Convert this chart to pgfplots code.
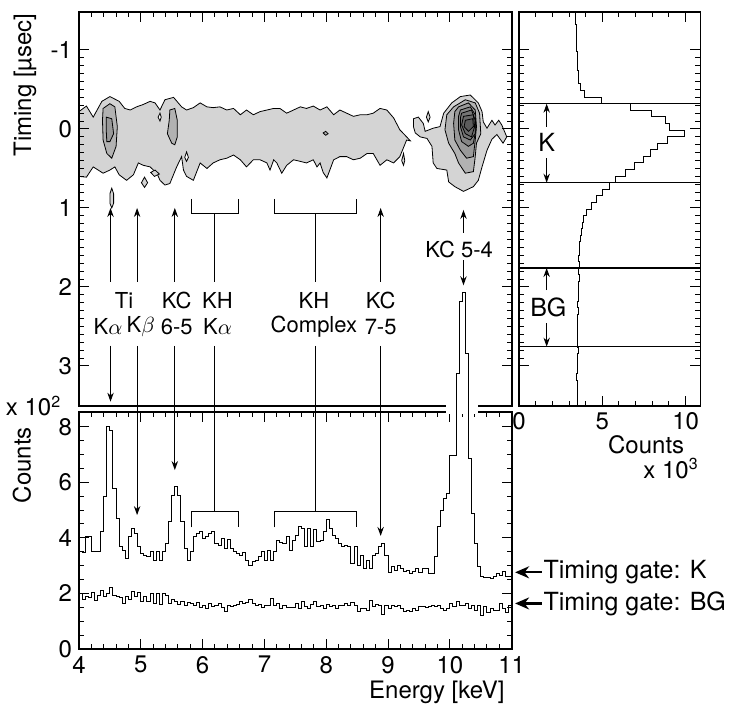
\documentclass[border=0pt]{standalone}
\usepackage{fontspec}
\setmainfont{TeX Gyre Heros}
\usepackage{pgfplots}
\pgfplotsset{compat=1.18}
\usetikzlibrary{arrows.meta}

\definecolor{c1}{gray}{0.83}
\definecolor{c2}{gray}{0.70}
\definecolor{c3}{gray}{0.60}
\definecolor{c4}{gray}{0.52}
\definecolor{c5}{gray}{0.46}
\definecolor{c6}{gray}{0.41}
\definecolor{c7}{gray}{0.36}

\newcommand\fa{\fontsize{12}{14}\selectfont}
\newcommand\fb{\fontsize{11}{13}\selectfont}
\newcommand\fc{\fontsize{12.5}{15}\selectfont}

\tikzset{
  arr/.style={-{Stealth[length=4.5pt,width=3.2pt]}, line width=0.5pt},
  gate/.style={-{Stealth[length=7pt,width=6pt]}, line width=1.1pt},
  ctr/.style={draw=black, line width=0.4pt},
}
\pgfplotsset{
  panel/.style={
    scale only axis, anchor=south west,
    axis line style={line width=0.8pt},
    tick style={black, line width=0.5pt},
    major tick length=5pt, minor tick length=2.5pt,
    tick label style={font=\fa},
    label style={font=\fa},
    /pgf/number format/assume math mode=true,
  },
}

\begin{document}
\begin{tikzpicture}
\path[use as bounding box] (0pt,0pt) rectangle (365.5pt,356.5pt);

% ---- timing vs energy (contours) ----
\begin{axis}[panel, at={(39.5pt,153.65pt)}, width=216.35pt, height=196.7pt,
  xmin=4, xmax=11, ymin=-1.477, ymax=3.503, y dir=reverse,
  xtick={4,...,11}, minor x tick num=4, xtick pos=right, xticklabels={},
  ytick={-1,0,1,2,3}, yticklabels={-1,0,1,2,3}, minor y tick num=9,
  axis on top,
  ylabel={Timing [µsec]},
  ylabel style={at={(axis description cs:-0.125,0.815)}, anchor=center},
]
% outer level
\addplot[ctr, fill=c1] coordinates {
(4.00,-0.22)(4.12,-0.29)(4.23,-0.15)(4.37,-0.35)(4.50,-0.41)(4.65,-0.35)(4.74,-0.26)(4.83,-0.24)
(4.93,-0.28)(5.04,-0.31)(5.15,-0.35)(5.23,-0.33)(5.31,-0.24)(5.39,-0.37)(5.53,-0.40)(5.66,-0.28)
(5.74,-0.24)(5.85,-0.27)(5.96,-0.33)(6.07,-0.28)(6.17,-0.27)(6.28,-0.28)(6.39,-0.24)(6.50,-0.26)
(6.61,-0.18)(6.71,-0.24)(6.82,-0.18)(6.93,-0.22)(7.04,-0.24)(7.15,-0.26)(7.25,-0.26)(7.36,-0.20)
(7.47,-0.24)(7.58,-0.28)(7.68,-0.26)(7.79,-0.29)(7.90,-0.24)(8.01,-0.28)(8.12,-0.18)(8.22,-0.24)
(8.33,-0.20)(8.44,-0.16)(8.55,-0.18)(8.66,-0.18)(8.76,-0.20)(8.87,-0.26)(8.98,-0.24)(9.09,-0.14)
(9.19,0.01)(9.30,0.10)(9.36,0.15)(9.30,0.14)(9.19,0.35)(9.09,0.43)(8.98,0.39)(8.87,0.46)
(8.76,0.31)(8.66,0.31)(8.55,0.37)(8.44,0.39)(8.33,0.35)(8.22,0.35)(8.12,0.39)(8.01,0.62)
(7.95,0.55)(7.90,0.43)(7.85,0.48)(7.79,0.39)(7.68,0.43)(7.58,0.41)(7.47,0.39)(7.36,0.46)
(7.28,0.56)(7.20,0.43)(7.15,0.39)(7.09,0.52)(7.04,0.43)(6.93,0.39)(6.82,0.39)(6.71,0.48)
(6.61,0.39)(6.50,0.33)(6.39,0.37)(6.28,0.39)(6.17,0.43)(6.07,0.50)(5.96,0.43)(5.85,0.65)
(5.74,0.60)(5.69,0.52)(5.66,0.35)(5.58,0.48)(5.47,0.69)(5.39,0.71)(5.31,0.65)(5.26,0.56)
(5.15,0.48)(5.04,0.46)(4.96,0.43)(4.88,0.58)(4.77,0.65)(4.65,0.58)(4.58,0.48)(4.50,0.52)
(4.39,0.56)(4.23,0.48)(4.12,0.61)(4.00,0.60)} -- cycle;
\addplot[ctr, fill=c1] coordinates {
(9.41,-0.13)(9.49,-0.15)(9.57,-0.07)(9.60,0.03)(9.73,-0.01)(9.84,-0.03)(9.90,-0.20)(10.03,-0.33)
(10.17,-0.41)(10.33,-0.43)(10.46,-0.33)(10.52,-0.22)(10.54,-0.09)(10.60,-0.01)(10.68,-0.11)
(10.73,-0.05)(10.79,-0.11)(10.84,-0.05)(10.92,0.10)(10.86,0.18)(10.76,0.07)(10.68,0.13)
(10.60,0.27)(10.52,0.48)(10.46,0.65)(10.38,0.73)(10.22,0.79)(10.08,0.73)(9.98,0.67)(9.95,0.52)
(9.79,0.50)(9.73,0.43)(9.71,0.22)(9.63,0.12)(9.52,0.10)(9.44,0.05)(9.41,-0.03)} -- cycle;
% small islands
\addplot[ctr, fill=c1] coordinates {(4.53,0.75)(4.56,0.82)(4.56,0.94)(4.53,1.00)(4.50,0.94)(4.50,0.82)} -- cycle;
\addplot[ctr, fill=c1] coordinates {(5.06,0.61)(5.11,0.68)(5.06,0.74)(5.01,0.68)} -- cycle;
\addplot[ctr, fill=c1] coordinates {(5.16,0.55)(5.23,0.52)(5.30,0.57)(5.22,0.60)} -- cycle;
\addplot[ctr, fill=c1] coordinates {(9.25,0.31)(9.27,0.40)(9.25,0.46)(9.22,0.40)} -- cycle;
\addplot[ctr, fill=c1] coordinates {(9.65,-0.22)(9.68,-0.15)(9.65,-0.09)(9.62,-0.15)} -- cycle;
% holes
\addplot[ctr, fill=white] coordinates {(5.31,-0.20)(5.33,-0.15)(5.31,-0.10)(5.28,-0.15)} -- cycle;
\addplot[ctr, fill=white] coordinates {(5.74,0.29)(5.77,0.36)(5.74,0.41)(5.71,0.36)} -- cycle;
\addplot[ctr, fill=c2] coordinates {(7.95,0.05)(7.99,0.03)(8.03,0.06)(7.99,0.08)} -- cycle;
% Ti Ka
\addplot[ctr, fill=c2] coordinates {(4.39,-0.26)(4.50,-0.32)(4.58,-0.28)(4.62,-0.03)(4.60,0.22)(4.53,0.37)(4.45,0.31)(4.39,0.14)(4.38,-0.11)} -- cycle;
\addplot[ctr, fill=c3] coordinates {(4.44,-0.15)(4.53,-0.13)(4.56,0.06)(4.50,0.16)(4.45,0.16)(4.44,0.01)} -- cycle;
% KC 6-5
\addplot[ctr, fill=c2] coordinates {(5.47,-0.24)(5.55,-0.26)(5.59,-0.11)(5.59,0.10)(5.55,0.20)(5.50,0.18)(5.43,0.06)(5.46,-0.11)} -- cycle;
% KC 5-4
\addplot[ctr, fill=c2] coordinates {(10.06,-0.28)(10.25,-0.37)(10.41,-0.33)(10.48,-0.20)(10.50,0.06)(10.43,0.18)(10.41,0.35)(10.38,0.54)(10.25,0.56)(10.14,0.43)(10.08,0.31)(9.98,0.18)(9.92,0.01)(9.95,-0.18)} -- cycle;
\addplot[ctr, fill=c3] coordinates {(10.14,-0.28)(10.30,-0.33)(10.41,-0.24)(10.43,-0.03)(10.41,0.14)(10.38,0.35)(10.27,0.37)(10.17,0.27)(10.08,0.14)(10.06,-0.07)(10.08,-0.22)} -- cycle;
\addplot[ctr, fill=c4] coordinates {(10.17,-0.24)(10.33,-0.28)(10.41,-0.18)(10.42,0.01)(10.38,0.18)(10.30,0.22)(10.19,0.16)(10.14,0.01)(10.14,-0.16)} -- cycle;
\addplot[ctr, fill=c5] coordinates {(10.19,-0.20)(10.35,-0.24)(10.41,-0.11)(10.41,0.06)(10.33,0.14)(10.22,0.10)(10.17,-0.03)(10.17,-0.14)} -- cycle;
\addplot[ctr, fill=c6] coordinates {(10.22,-0.16)(10.38,-0.18)(10.40,-0.03)(10.35,0.10)(10.25,0.06)(10.19,-0.05)} -- cycle;
\addplot[ctr, fill=c7] coordinates {(10.25,-0.11)(10.37,-0.13)(10.38,-0.03)(10.30,0.03)(10.23,-0.03)} -- cycle;

% annotations, upper part
\draw[arr] (4.51,1.933) -- (4.51,1.0);
\draw[arr] (4.51,2.743) -- (4.51,3.452);
\draw[arr] (4.94,1.933) -- (4.94,1.0);
\draw[arr] (5.55,1.933) -- (5.55,1.0);
\draw[line width=0.5pt] (5.82,0.886) -- (5.82,1.076) -- (6.58,1.076) -- (6.58,0.886);
\draw[line width=0.5pt] (6.20,1.076) -- (6.20,1.933);
\draw[line width=0.5pt] (7.16,0.886) -- (7.16,1.076) -- (8.49,1.076) -- (8.49,0.886);
\draw[line width=0.5pt] (7.83,1.076) -- (7.83,1.933);
\draw[arr] (8.88,1.933) -- (8.88,1.0);
\draw[arr] (10.22,1.316) -- (10.22,1.025);
\node[font=\fb] at (4.73,2.165) {Ti};
\node[font=\fb] at (4.47,2.506) {K$\alpha$};
\node[font=\fb] at (5.00,2.506) {K$\beta$};
\node[font=\fb] at (5.58,2.165) {KC};
\node[font=\fb] at (5.58,2.506) {6-5};
\node[font=\fb] at (6.24,2.165) {KH};
\node[font=\fb] at (6.24,2.506) {K$\alpha$};
\node[font=\fb] at (7.80,2.165) {KH};
\node[font=\fb] at (7.80,2.506) {Complex};
\node[font=\fb] at (8.88,2.165) {KC};
\node[font=\fb] at (8.88,2.506) {7-5};
\node[font=\fb] at (10.15,1.53) {KC 5-4};
\end{axis}

% ---- timing projection ----
\begin{axis}[panel, at={(259.5pt,153.65pt)}, width=90.65pt, height=196.7pt,
  xmin=0, xmax=10.88, ymin=-1.477, ymax=3.503, y dir=reverse,
  xtick={0,5,10}, minor x tick num=4,
  ytick={-1,0,1,2,3}, yticklabels={}, minor y tick num=9,
  clip mode=individual,
  xlabel={Counts},
  xlabel style={at={(axis description cs:0.95,-0.1)}, anchor=east},
]
\addplot[black, line width=0.5pt] coordinates {
(3.38,-1.487)(3.38,-1.403)(3.40,-1.403)(3.40,-1.320)(3.42,-1.320)(3.42,-1.237)(3.45,-1.237)(3.45,-1.153)
(3.43,-1.153)(3.43,-1.070)(3.47,-1.070)(3.47,-0.987)(3.50,-0.987)(3.50,-0.903)(3.48,-0.903)(3.48,-0.820)
(3.52,-0.820)(3.52,-0.737)(3.55,-0.737)(3.55,-0.653)(3.58,-0.653)(3.58,-0.570)(3.66,-0.570)(3.66,-0.487)
(3.92,-0.487)(3.92,-0.403)(4.96,-0.403)(4.96,-0.320)(6.70,-0.320)(6.70,-0.237)(7.96,-0.237)(7.96,-0.153)
(8.80,-0.153)(8.80,-0.070)(9.02,-0.070)(9.02,0.013)(9.92,0.013)(9.92,0.097)(8.90,0.097)(8.90,0.180)
(8.30,0.180)(8.30,0.263)(7.92,0.263)(7.92,0.347)(7.48,0.347)(7.48,0.430)(6.92,0.430)(6.92,0.513)
(6.42,0.513)(6.42,0.597)(5.82,0.597)(5.82,0.680)(5.42,0.680)(5.42,0.763)(5.00,0.763)(5.00,0.847)
(4.66,0.847)(4.66,0.930)(4.36,0.930)(4.36,1.013)(4.06,1.013)(4.06,1.097)(3.86,1.097)(3.86,1.180)
(3.80,1.180)(3.80,1.263)(3.72,1.263)(3.72,1.347)(3.70,1.347)(3.70,1.430)(3.62,1.430)(3.62,1.513)
(3.60,1.513)(3.60,1.597)(3.58,1.597)(3.58,1.680)(3.62,1.680)(3.62,1.763)(3.56,1.763)(3.56,1.847)
(3.60,1.847)(3.60,1.930)(3.55,1.930)(3.55,2.013)(3.58,2.013)(3.58,2.097)(3.55,2.097)(3.55,2.180)
(3.53,2.180)(3.53,2.263)(3.55,2.263)(3.55,2.347)(3.52,2.347)(3.52,2.430)(3.50,2.430)(3.50,2.513)
(3.52,2.513)(3.52,2.597)(3.50,2.597)(3.50,2.680)(3.48,2.680)(3.48,2.763)(3.55,2.763)(3.55,2.847)
(3.52,2.847)(3.52,2.930)(3.50,2.930)(3.50,3.013)(3.48,3.013)(3.48,3.097)(3.42,3.097)(3.42,3.180)
(3.50,3.180)(3.50,3.263)(3.52,3.263)(3.52,3.347)(3.50,3.347)(3.50,3.430)(3.52,3.430)(3.52,3.513)};
\draw[line width=0.6pt] (0,-0.32) -- (10.88,-0.32);
\draw[line width=0.6pt] (0,0.68) -- (10.88,0.68);
\draw[line width=0.6pt] (0,1.76) -- (10.88,1.76);
\draw[line width=0.6pt] (0,2.755) -- (10.88,2.755);
\draw[arr] (1.66,-0.03) -- (1.66,-0.32);
\draw[arr] (1.66,0.37) -- (1.66,0.68);
\draw[arr] (1.66,2.04) -- (1.66,1.76);
\draw[arr] (1.66,2.46) -- (1.66,2.755);
\node[font=\fc] at (1.66,0.17) {K};
\node[font=\fc] at (1.76,2.257) {BG};
\node[font=\fa, anchor=east] at (axis description cs:1.03,-0.16) {x 10\textsuperscript{3}};
\end{axis}

% ---- energy spectra ----
\begin{axis}[panel, at={(39.5pt,32pt)}, width=216.35pt, height=118.5pt,
  xmin=4, xmax=11, ymin=0, ymax=8.53,
  xtick={4,...,11}, minor x tick num=4,
  ytick={0,2,4,6,8}, minor y tick num=3,
  clip=false,
  xlabel={Energy [keV]},
  xlabel style={at={(axis description cs:1.0,-0.181)}, anchor=east},
  ylabel={Counts},
  ylabel style={at={(axis description cs:-0.132,0.776)}, anchor=center},
]
% timing gate K
\addplot[const plot, black, line width=0.5pt] coordinates {
(4.00,3.50)(4.05,3.46)(4.10,4.04)(4.15,4.04)(4.20,3.50)(4.25,3.50)(4.30,3.50)(4.35,4.22)(4.40,5.48)(4.45,8.02)
(4.50,7.88)(4.55,5.78)(4.60,4.70)(4.65,3.68)(4.70,3.56)(4.75,3.26)(4.80,4.04)(4.85,4.34)(4.90,4.16)(4.95,3.68)
(5.00,3.44)(5.05,3.38)(5.10,3.32)(5.15,3.50)(5.20,3.20)(5.25,3.50)(5.30,3.20)(5.35,3.50)(5.40,3.80)(5.45,4.58)
(5.50,5.54)(5.55,5.86)(5.60,5.54)(5.65,4.58)(5.70,3.62)(5.75,3.20)(5.80,3.50)(5.85,4.04)(5.90,4.16)(5.95,4.22)
(6.00,3.98)(6.05,4.04)(6.10,4.16)(6.15,4.22)(6.20,3.80)(6.25,3.74)(6.30,3.98)(6.35,3.62)(6.40,3.95)(6.45,3.62)
(6.50,3.50)(6.55,3.44)(6.60,3.38)(6.65,3.46)(6.70,3.20)(6.75,3.02)(6.80,3.14)(6.85,3.20)(6.90,3.32)(6.95,3.50)
(7.00,3.18)(7.05,3.56)(7.10,3.18)(7.15,3.50)(7.20,3.92)(7.25,3.82)(7.30,3.80)(7.35,4.04)(7.40,3.56)(7.45,3.92)
(7.50,4.10)(7.55,4.42)(7.60,4.34)(7.65,3.68)(7.70,4.34)(7.75,3.68)(7.80,4.30)(7.85,3.86)(7.90,3.92)(7.95,4.22)
(8.00,4.67)(8.05,4.34)(8.10,4.10)(8.15,3.98)(8.20,3.80)(8.25,3.68)(8.30,3.74)(8.35,3.68)(8.40,3.08)(8.45,3.68)
(8.50,3.02)(8.55,3.38)(8.60,2.90)(8.65,3.20)(8.70,2.90)(8.75,3.38)(8.80,3.44)(8.85,3.68)(8.90,3.80)(8.95,3.38)
(9.00,2.75)(9.05,2.96)(9.10,2.84)(9.15,3.02)(9.20,2.90)(9.25,2.78)(9.30,2.84)(9.35,2.72)(9.40,2.78)(9.45,2.90)
(9.50,2.75)(9.55,2.90)(9.60,2.90)(9.65,2.72)(9.70,2.72)(9.75,3.32)(9.80,4.40)(9.85,5.00)(9.90,5.42)(9.95,5.60)
(10.00,6.98)(10.05,6.98)(10.10,9.92)(10.15,12.49)(10.20,12.84)(10.25,10.64)(10.30,6.86)(10.35,4.88)(10.40,3.80)(10.45,2.96)
(10.50,2.60)(10.55,2.58)(10.60,2.58)(10.65,2.55)(10.70,2.62)(10.75,2.72)(10.80,2.66)(10.85,2.78)(10.90,2.62)(10.95,2.60)
(11.00,2.60)};
% timing gate BG
\addplot[const plot, black, line width=0.5pt] coordinates {
(4.00,2.00)(4.05,1.79)(4.10,1.88)(4.15,1.84)(4.20,2.03)(4.25,1.76)(4.30,1.94)(4.35,2.10)(4.40,1.88)(4.45,2.00)
(4.50,2.22)(4.55,1.94)(4.60,1.88)(4.65,1.86)(4.70,1.64)(4.75,1.88)(4.80,1.79)(4.85,2.06)(4.90,1.88)(4.95,2.03)
(5.00,1.70)(5.05,1.88)(5.10,1.70)(5.15,2.00)(5.20,1.64)(5.25,2.00)(5.30,1.62)(5.35,2.00)(5.40,1.94)(5.45,1.64)
(5.50,1.79)(5.55,1.70)(5.60,1.62)(5.65,1.70)(5.70,1.55)(5.75,1.67)(5.80,1.64)(5.85,1.58)(5.90,1.67)(5.95,1.50)
(6.00,1.58)(6.05,1.45)(6.10,1.64)(6.15,1.52)(6.20,1.58)(6.25,1.64)(6.30,1.50)(6.35,1.34)(6.40,1.58)(6.45,1.52)
(6.50,1.55)(6.55,1.62)(6.60,1.70)(6.65,1.64)(6.70,1.67)(6.75,1.79)(6.80,1.64)(6.85,1.55)(6.90,1.62)(6.95,1.50)
(7.00,1.58)(7.05,1.55)(7.10,1.82)(7.15,1.55)(7.20,1.64)(7.25,1.45)(7.30,1.55)(7.35,1.50)(7.40,1.50)(7.45,1.50)
(7.50,1.64)(7.55,1.47)(7.60,1.70)(7.65,1.52)(7.70,1.45)(7.75,1.62)(7.80,1.70)(7.85,1.52)(7.90,1.55)(7.95,1.45)
(8.00,1.62)(8.05,1.52)(8.10,1.58)(8.15,1.47)(8.20,1.58)(8.25,1.58)(8.30,1.64)(8.35,1.55)(8.40,1.67)(8.45,1.58)
(8.50,1.34)(8.55,1.45)(8.60,1.47)(8.65,1.40)(8.70,1.74)(8.75,1.52)(8.80,1.62)(8.85,1.55)(8.90,1.24)(8.95,1.55)
(9.00,1.47)(9.05,1.58)(9.10,1.52)(9.15,1.55)(9.20,1.45)(9.25,1.34)(9.30,1.40)(9.35,1.34)(9.40,1.45)(9.45,1.40)
(9.50,1.52)(9.55,1.52)(9.60,1.50)(9.65,1.52)(9.70,1.55)(9.75,1.52)(9.80,1.58)(9.85,1.47)(9.90,1.40)(9.95,1.45)
(10.00,1.64)(10.05,1.52)(10.10,1.70)(10.15,1.58)(10.20,1.58)(10.25,1.64)(10.30,1.45)(10.35,1.55)(10.40,1.40)(10.45,1.55)
(10.50,1.20)(10.55,1.52)(10.60,1.30)(10.65,1.45)(10.70,1.38)(10.75,1.40)(10.80,1.64)(10.85,1.45)(10.90,1.30)(10.95,1.55)
(11.00,1.55)};
% break in the frames where the KC 5-4 peak passes
\fill[white] (9.94,8.47) rectangle (10.46,8.86);
\addplot[const plot, black, line width=0.5pt] coordinates {
(9.90,5.42)(9.95,5.60)(10.00,6.98)(10.05,6.98)(10.10,9.92)(10.15,12.49)(10.20,12.84)(10.25,10.64)(10.30,6.86)(10.35,4.88)(10.40,3.80)(10.45,2.96)(10.50,2.60)};
% annotations reaching down from the labels
\draw[arr] (4.94,10.91) -- (4.94,4.82);
\draw[arr] (5.55,10.91) -- (5.55,6.44);
\draw[line width=0.5pt] (6.20,10.91) -- (6.20,4.94);
\draw[line width=0.5pt] (5.82,4.38) -- (5.82,4.94) -- (6.58,4.94) -- (6.58,4.38);
\draw[line width=0.5pt] (7.83,10.91) -- (7.83,4.94);
\draw[line width=0.5pt] (7.16,4.38) -- (7.16,4.94) -- (8.49,4.94) -- (8.49,4.38);
\draw[arr] (8.88,10.91) -- (8.88,4.07);
\draw[arr] (10.22,13.99) -- (10.22,13.09);
\node[font=\fa, inner sep=1pt] at (axis description cs:-0.105,1.025) {x 10\textsuperscript{2}};
\draw[gate] (11.487,2.76) -- (11.055,2.76);
\node[font=\fc, anchor=west, inner sep=0pt] at (11.508,2.76) {Timing gate: K};
\draw[gate] (11.487,1.64) -- (11.055,1.64);
\node[font=\fc, anchor=west, inner sep=0pt] at (11.508,1.64) {Timing gate: BG};
\end{axis}
\end{tikzpicture}
\end{document}
